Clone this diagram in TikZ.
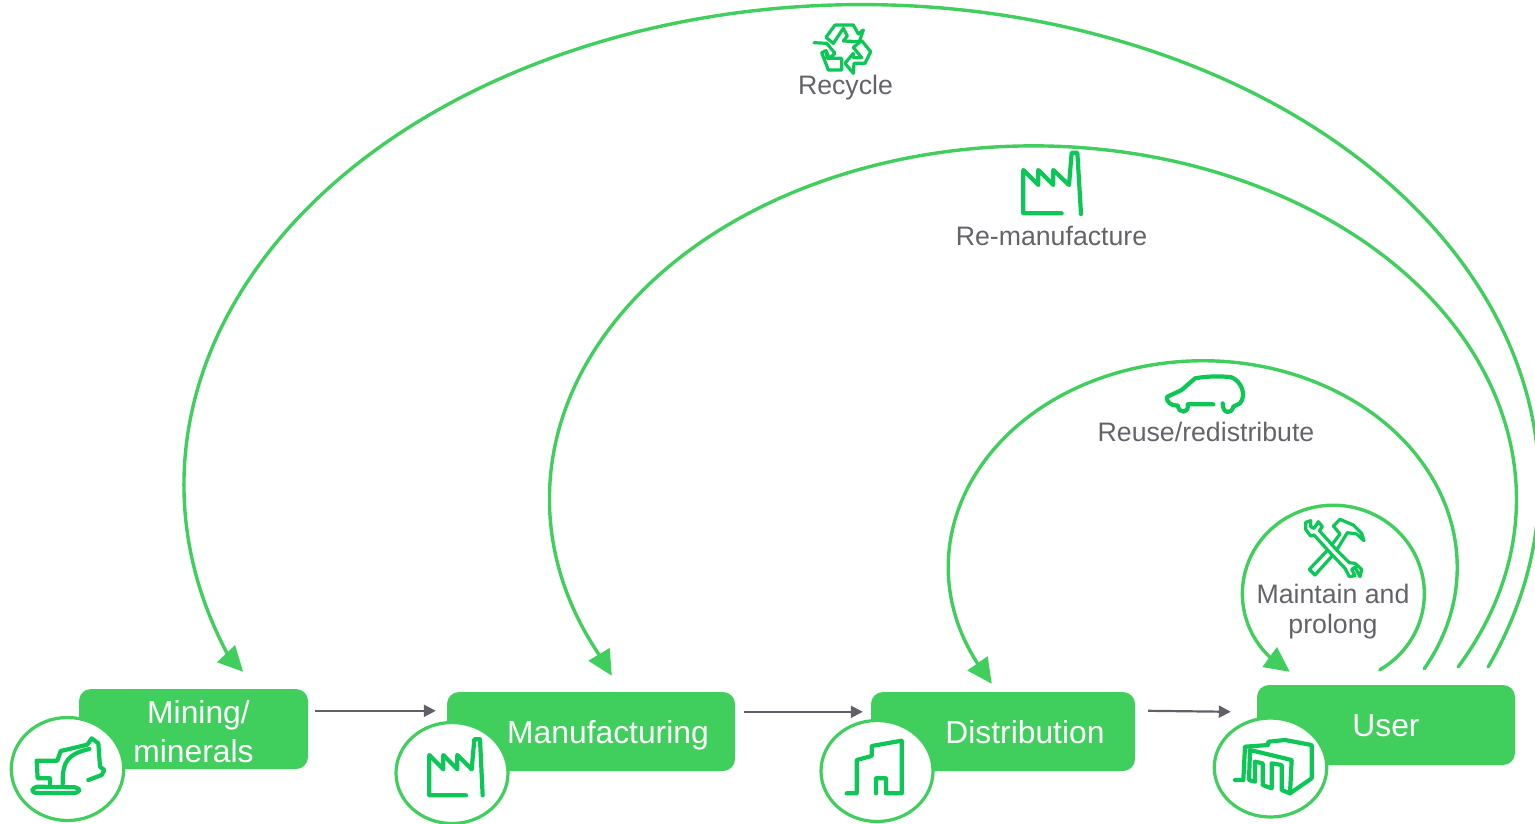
\documentclass[tikz,border=0pt]{standalone}
\usepackage{fontspec}
\setmainfont{Liberation Sans}
\usetikzlibrary{arrows.meta,shapes.geometric}
\definecolor{boxgreen}{HTML}{40CE5C}
\definecolor{icongreen}{HTML}{0CC755}
\definecolor{textgrey}{HTML}{636469}
\definecolor{flowgrey}{HTML}{5F6068}
\tikzset{
  stagebox/.style={draw=none,fill=boxgreen,rounded corners=12pt,inner sep=0pt,text=white,align=center,
    font=\fontsize{31.8}{39}\selectfont},
  badge/.style={ellipse,draw=boxgreen,line width=3.2pt,fill=white,inner sep=0pt,outer sep=0pt},
  flow/.style={draw=flowgrey,line width=2.2pt,-{Triangle[length=12pt,width=12pt]}},
  loopline/.style={draw=boxgreen,line width=3.4pt,line cap=round,-{Triangle[length=25pt,width=24pt]}},
  looplabel/.style={text=textgrey,align=center,inner sep=0pt,font=\fontsize{26.7}{30}\selectfont},
  iconline/.style={draw=icongreen,line width=4.2pt,line cap=round,line join=round},
  thinicon/.style={draw=icongreen,line width=3.2pt,line cap=round,line join=round},
  zoomed/.style={x=0.33333pt,y=-0.33333pt}
}
\begin{document}
\begin{tikzpicture}[x=1pt,y=1pt]
\useasboundingbox (0,0) rectangle (1535,-823);
\clip (0,0) rectangle (1535,-823);

% stages
\node[stagebox,minimum width=229pt,minimum height=80pt] (mine) at (193.5,-729) {\hspace*{10pt}\rule{0pt}{29pt}Mining/\\minerals};
\node[stagebox,minimum width=288pt,minimum height=79pt,text height=23pt,text depth=0pt] (mfg) at (591,-731.5) {\hspace*{34pt}Manufacturing};
\node[stagebox,minimum width=264pt,minimum height=79pt,text height=23pt,text depth=0pt] (dist) at (1003,-731.5) {\hspace*{44pt}Distribution};
\node[stagebox,minimum width=258pt,minimum height=80pt,text height=22pt,text depth=0pt] (user) at (1386,-725) {User};

% badges
\node[badge,minimum width=112.5pt,minimum height=103pt] (bmine) at (67.5,-769) {};
\node[badge,minimum width=112pt,minimum height=101pt] (bmfg) at (452,-773) {};
\node[badge,minimum width=112pt,minimum height=101pt] (bdist) at (877,-771) {};
\node[badge,minimum width=112.5pt,minimum height=99pt] (buser) at (1270.5,-767.5) {};

% forward flow
\draw[flow] ([shift={(7pt,-22pt)}]mine.north east) -- ([shift={(-11pt,-19pt)}]mfg.north west);
\draw[flow] ([shift={(9pt,-20pt)}]mfg.north east) -- ([shift={(-8pt,-20pt)}]dist.north west);
\draw[flow] ([shift={(13pt,-19pt)}]dist.north east) -- ([shift={(-26pt,-27pt)}]user.north west);

% loop ends
\coordinate (recS) at ([shift={(-27pt,18pt)}]user.north east);
\coordinate (recE) at ([shift={(-65pt,17pt)}]mine.north east);
\coordinate (remS) at ([shift={(-57pt,18pt)}]user.north east);
\coordinate (remE) at ([shift={(165pt,16pt)}]mfg.north west);
\coordinate (reuS) at ([shift={(-91pt,16pt)}]user.north east);
\coordinate (reuE) at ([shift={(121pt,8pt)}]dist.north west);
\coordinate (keepS) at ([shift={(123pt,15pt)}]user.north west);
\coordinate (keepE) at ([shift={(33pt,13pt)}]user.north west);

% loops
\draw[loopline] (recS) arc[start angle=-22.3,end angle=201,x radius=677.5,y radius=480] -- (recE);
\draw[loopline] (remS) arc[start angle=-28.4,end angle=206.5,x radius=483.5,y radius=353] -- (remE);
\draw[loopline] (reuS) arc[start angle=-29.5,end angle=208,x radius=254.5,y radius=206.4] -- (reuE);
\draw[loopline] (keepS) arc[start angle=-59.3,end angle=226,x radius=91,y radius=88.5] -- (keepE);

% labels
\node[looplabel,anchor=base] (lrec) at (845.5,-94) {Recycle};
\node[looplabel,anchor=base] (lrem) at (1051.5,-245) {Re-manufacture};
\node[looplabel,anchor=base] (lreu) at (1206,-441) {Reuse/redistribute};
\node[looplabel,anchor=base] (lkeep) at (1333,-633) {Maintain and\\prolong};

% excavator
\begin{scope}[shift={(0,-680)},zoomed]
\draw[iconline] (150,312) -- (150,295) -- (113,295) -- (110,242) -- (172,242) -- (182,213) -- (262,194) -- (275,175) -- (295,190) -- (300,260) -- (313,270) -- (305,285) -- (265,300);
\draw[iconline] (188,312) -- (188,295) .. controls (190,250) and (200,222) .. (268,207);
\draw[iconline,rounded corners=4pt] (100,320) -- (237,322) -- (237,339) -- (95,339) -- cycle;
\end{scope}

% factory in the manufacturing badge
\begin{scope}[shift={(380,-680)},zoomed]
\draw[iconline] (258,346) -- (148,346) -- (148,225) -- (190,268) -- (190,225) -- (232,268) -- (232,225) -- (275,268) -- (283,178) -- (300,178) -- (308,346);
\end{scope}

% building
\begin{scope}[shift={(810,-680)},zoomed]
\draw[iconline] (110,340) -- (140,340) -- (140,240) -- (185,228) -- (185,198) -- (275,182) -- (275,340) -- (228,340) -- (228,295) -- (198,295) -- (198,340);
\end{scope}

% warehouse
\begin{scope}[shift={(1200,-680)},zoomed]
\draw[iconline] (105,300) -- (130,300) -- (135,200) -- (205,195) -- (205,185) -- (255,180) -- (335,195) -- (335,295) -- (270,340);
\draw[iconline] (150,210) -- (275,240) -- (270,340) -- (245,330) -- (245,255) -- (215,250) -- (215,325) -- (188,315) -- (188,250) -- (165,245) -- (165,305) -- (147,300) -- cycle;
\end{scope}

% recycle
\begin{scope}[shift={(790,-10)},zoomed]
\draw[thinicon] (108,82) -- (135,45) -- (190,45) -- (205,72) -- (220,60) -- (208,95) -- (160,93) -- (172,78) -- (160,55) -- (130,100) -- cycle;
\draw[thinicon] (190,112) -- (215,92) -- (242,125) -- (225,160) -- (192,160) -- (190,190) -- (165,160) -- (190,130) -- (190,143) -- (215,143) -- cycle;
\draw[thinicon] (72,98) -- (110,100) -- (135,130) -- (118,145) -- (108,122) -- (95,128) -- (115,180) -- (155,180) -- (155,145) -- (112,145) -- (108,122);
\end{scope}

% factory on the re-manufacture loop
\begin{scope}[shift={(1000,-140)},zoomed]
\draw[iconline] (185,220) -- (70,220) -- (70,90) -- (115,135) -- (115,90) -- (160,135) -- (160,90) -- (207,135) -- (215,38) -- (232,38) -- (243,222);
\end{scope}

% car
\begin{scope}[shift={(1150,-365)},zoomed]
\draw[iconline] (83,122) -- (68,120) .. controls (52,112) and (48,102) .. (52,95) -- (95,75) -- (135,40) .. controls (170,33) and (220,33) .. (245,37)
  .. controls (275,50) and (290,90) .. (270,115) -- (250,125) .. controls (245,148) and (218,148) .. (218,115);
\draw[iconline] (190,118) -- (113,118) .. controls (118,145) and (88,148) .. (83,122);
\end{scope}

% spanner and hammer
\begin{scope}[shift={(1290,-510)},zoomed]
\draw[thinicon] (62,32) -- (62,50) -- (72,55) -- (85,35) -- (97,50) -- (88,62) -- (140,120) -- (178,158) -- (195,160) -- (215,178) -- (210,200) -- (195,172) -- (185,178) -- (195,197) -- (178,200) -- (165,175) -- (113,120) -- (72,75) -- (62,78) -- (47,58) -- (47,37) -- cycle;
\draw[thinicon] (125,105) -- (150,72) -- (130,48) -- (150,28) -- (190,45) -- (215,70) -- (222,92) -- (200,72) -- (172,68) -- (140,120);
\draw[thinicon] (113,120) -- (58,178) -- (75,195) -- (127,137);
\end{scope}
\end{tikzpicture}
\end{document}
